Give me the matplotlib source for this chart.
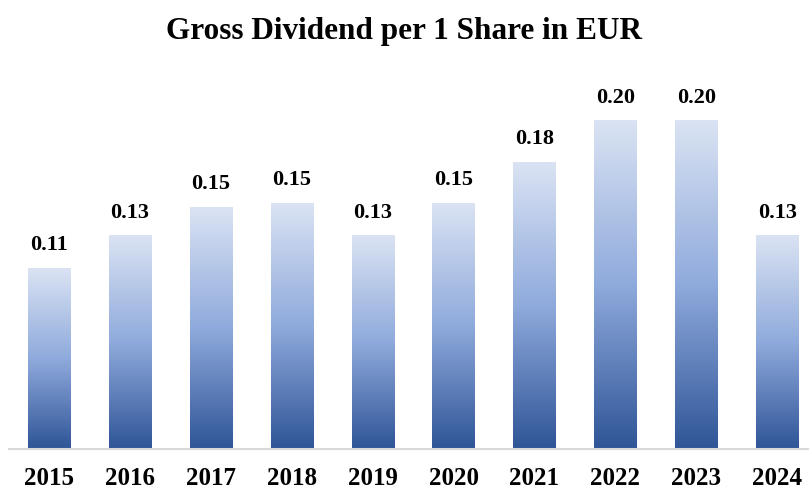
import numpy as np
import matplotlib.pyplot as plt
from matplotlib.colors import LinearSegmentedColormap

years = ['2015', '2016', '2017', '2018', '2019', '2020', '2021', '2022', '2023', '2024']
dividend = [0.11, 0.13, 0.1475, 0.15, 0.13, 0.15, 0.175, 0.20, 0.20, 0.13]
labels = ['0.11', '0.13', '0.15', '0.15', '0.13', '0.15', '0.18', '0.20', '0.20', '0.13']

plt.rcParams['font.family'] = ['Liberation Serif', 'DejaVu Serif']

# light top -> dark bottom, like the office gradient fill
cmap = LinearSegmentedColormap.from_list(
    'blu', [(0.0, '#2f5597'), (0.5, '#8faadc'), (1.0, '#dae3f3')])
grad = np.linspace(0, 1, 256).reshape(-1, 1)

fig = plt.figure(figsize=(8.09, 4.91), dpi=100)
ax = fig.add_axes([0, 42 / 491, 1, 389 / 491])

x = np.arange(len(years))
width = 0.52
bars = ax.bar(x, dividend, width, color='none')
for b, lab in zip(bars, labels):
    x0, h = b.get_x(), b.get_height()
    ax.imshow(grad, cmap=cmap, origin='lower', aspect='auto',
              extent=(x0, x0 + b.get_width(), 0, h), zorder=2)
    ax.text(x0 + b.get_width() / 2, h + 0.008, lab, ha='center', va='bottom',
            fontsize=16, fontweight='bold')

ax.set_xlim(-0.606, 9.394)
ax.set_ylim(0, 389 / 1640)
ax.set_yticks([])
ax.set_xticks(x)
ax.set_xticklabels(years, fontsize=18, fontweight='bold')
ax.tick_params(axis='x', length=0, pad=13)
for s in ['top', 'right', 'left']:
    ax.spines[s].set_visible(False)
ax.spines['bottom'].set_color('#d9d9d9')
ax.spines['bottom'].set_linewidth(1.5)
ax.spines['bottom'].set_bounds(-0.5, 9.5)

fig.text(0.5, 1 - 31 / 491, 'Gross Dividend per 1 Share in EUR', ha='center', va='center',
         fontsize=22.5, fontweight='bold')

fig.savefig('out.png', dpi=100)
